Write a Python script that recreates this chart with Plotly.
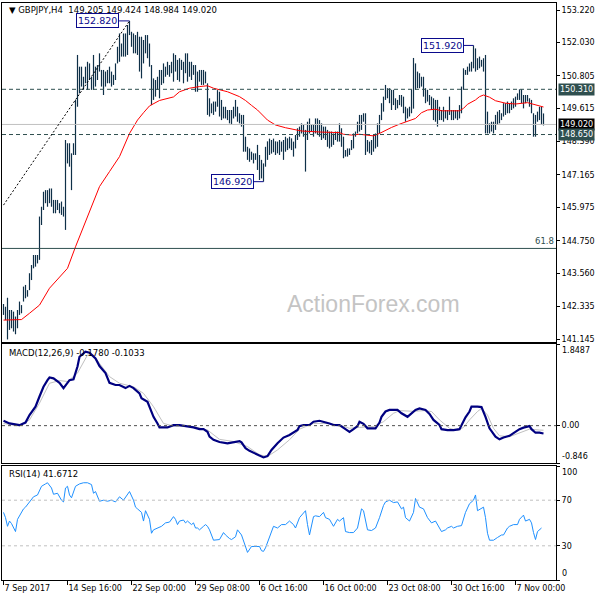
import plotly.graph_objects as go

# ---------------- data ----------------
bar_high = [142.43,142.33,142.66,142.21,142.21,142.15,141.97,142.21,142.52,142.39,
            143.07,143.13,142.94,143.56,143.86,144.23,144.23,144.23,145.64,146.00,
            146.55,146.61,146.61,146.67,146.67,146.25,146.25,146.25,146.13,146.19,
            146.00,148.45,148.33,148.33,147.96,148.33,149.92,151.57,151.14,151.14,
            150.77,151.14,151.32,151.26,150.77,151.57,151.14,151.20,151.63,151.02,
            151.02,150.96,151.02,151.14,150.96,150.84,151.26,151.87,152.36,151.99,
            152.36,152.36,152.67,152.82,152.42,152.36,152.30,152.42,152.24,152.24,
            152.12,152.30,152.30,151.99,151.20,150.71,150.65,150.77,151.02,151.02,
            151.26,151.14,151.32,151.20,151.32,151.63,151.57,151.39,151.45,151.39,
            151.32,151.63,151.63,151.32,151.32,151.20,151.20,150.96,151.02,151.02,
            151.02,150.96,150.53,149.98,149.79,149.86,149.86,150.28,150.22,149.92,
            149.67,149.67,149.55,149.55,149.55,149.67,149.92,149.67,149.43,149.37,
            149.37,148.57,148.20,148.14,148.02,147.96,147.96,148.27,147.90,147.72,
            147.59,148.20,148.40,148.50,148.45,148.50,148.40,148.39,148.45,148.39,
            148.45,148.57,148.51,148.57,148.51,148.39,148.63,148.88,148.94,149.06,
            149.00,148.82,149.12,149.24,149.00,149.00,149.24,149.24,149.18,149.06,
            148.94,148.94,148.82,148.76,148.76,148.69,148.76,148.76,149.06,148.88,
            148.57,148.08,148.14,148.14,148.45,148.69,148.76,149.12,149.37,149.37,
            149.43,149.43,148.45,148.39,148.45,148.63,148.69,149.06,149.37,149.80,
            150.04,150.47,150.35,150.35,150.29,150.29,149.98,149.92,150.10,150.10,
            150.04,149.67,149.61,149.67,150.30,151.46,151.26,150.96,150.90,150.77,
            150.77,150.35,150.29,150.10,150.04,149.98,149.92,149.92,149.67,149.55,
            149.67,149.55,149.55,150.04,149.55,149.55,149.55,149.55,149.73,150.41,
            151.08,151.02,151.14,151.26,151.32,151.92,151.81,151.45,151.51,151.39,
            151.45,151.57,149.49,149.06,149.12,149.12,149.37,149.49,149.55,149.43,
            149.80,149.80,149.86,149.80,149.86,149.98,150.04,150.16,150.31,150.31,
            150.10,150.10,150.10,149.98,149.92,149.43,149.37,149.49,149.67,149.67,
            149.424]
bar_low = [142.03,141.84,141.13,141.48,141.54,141.42,141.32,141.54,142.03,142.09,
           142.52,142.64,142.70,142.94,143.31,143.74,143.80,143.92,144.05,145.33,
           145.88,146.13,146.00,146.13,146.00,145.76,145.76,145.88,145.76,145.70,
           145.64,145.15,147.59,147.47,146.61,147.90,147.90,149.67,150.16,150.41,
           150.29,150.53,150.29,150.65,150.29,150.29,150.41,150.65,150.96,150.41,
           150.10,150.41,150.53,150.53,150.41,150.47,150.65,151.26,151.32,151.51,
           151.51,151.51,151.57,152.30,151.87,151.63,151.63,151.57,150.96,150.71,
           151.26,151.63,151.45,151.14,149.73,149.92,150.04,150.29,149.98,150.47,
           150.53,150.77,150.84,150.77,150.90,150.59,150.96,150.65,150.59,151.02,
           150.53,150.90,150.59,150.77,150.65,150.84,150.22,150.22,150.59,150.47,
           150.47,150.53,149.37,149.31,149.43,149.37,149.49,149.67,149.31,149.18,
           149.24,149.24,149.18,149.06,149.00,149.24,149.31,149.12,149.06,148.94,
           148.02,148.02,147.72,147.65,147.72,147.59,147.72,147.35,146.98,147.04,
           146.92,147.47,147.72,147.90,147.95,148.00,147.90,147.96,147.90,148.02,
           147.72,148.02,148.08,148.14,148.08,147.84,148.14,148.45,148.57,148.69,
           148.57,147.29,148.45,148.69,148.76,148.57,148.69,148.63,148.57,148.45,
           148.51,148.45,148.20,148.14,148.20,148.27,148.45,148.39,148.39,148.20,
           147.78,147.84,147.84,147.90,148.08,148.14,148.57,148.69,148.76,148.82,
           149.12,147.90,148.02,147.96,147.90,148.02,148.14,148.20,148.69,149.18,
           149.49,149.92,149.98,149.80,149.55,149.73,149.55,149.61,149.73,149.67,
           149.43,149.12,149.24,149.31,149.43,149.60,150.29,150.35,150.35,150.41,
           150.04,149.80,149.86,149.73,149.55,149.18,149.12,148.94,149.18,149.18,
           149.12,149.24,149.18,149.37,149.18,149.18,149.24,149.18,149.24,149.43,
           150.29,150.84,150.84,150.96,150.96,151.08,150.96,151.02,151.08,151.14,
           150.96,148.69,148.69,148.69,148.76,148.69,148.82,149.00,149.06,149.18,
           149.31,149.37,149.43,149.43,149.55,149.61,149.67,149.92,149.92,149.80,
           149.61,149.80,149.86,149.67,149.43,148.57,148.57,149.12,149.18,149.00,
           148.984]

ma_idx = [0, 9, 13, 18, 23, 28, 32, 36, 40, 45, 48, 53, 58, 63, 67, 70, 73, 78, 85, 88,
          93, 98, 102, 105, 112, 118, 121, 124, 127, 132, 136, 141, 144, 149, 159, 168,
          170, 174, 178, 182, 185, 188, 191, 194, 198, 201, 204, 206, 209, 212, 216, 219,
          228, 230, 232, 236, 238, 240, 243, 246, 251, 256, 262, 265, 270]
ma_val = [141.84, 141.86, 142.09, 142.39, 143.01, 143.43, 143.74, 144.53, 145.27, 146.13,
          146.74, 147.29, 147.84, 148.69, 149.18, 149.45, 149.70, 149.90, 150.03, 150.22,
          150.35, 150.41, 150.44, 150.35, 150.22, 150.04, 149.90, 149.72, 149.55, 149.18,
          149.00, 148.90, 148.85, 148.78, 148.74, 148.72, 148.66, 148.63, 148.66, 148.63,
          148.60, 148.69, 148.81, 148.91, 149.03, 149.10, 149.18, 149.24, 149.45, 149.55,
          149.58, 149.52, 149.52, 149.61, 149.76, 149.92, 150.04, 150.10, 150.02, 149.89,
          149.80, 149.77, 149.82, 149.77, 149.66]

macd_idx = [0, 3, 8, 11, 13, 16, 18, 20, 22, 23, 25, 28, 30, 32, 33, 35, 37, 38, 41, 43,
            46, 48, 51, 53, 56, 58, 61, 63, 65, 68, 69, 72, 73, 75, 77, 78, 82, 85, 88, 92,
            95, 98, 100, 102, 103, 105, 108, 112, 115, 118, 119, 121, 123, 127, 130, 132,
            134, 137, 140, 143, 147, 148, 150, 153, 155, 158, 160, 163, 165, 168, 171, 173,
            175, 177, 178, 180, 182, 186, 188, 189, 191, 193, 197, 199, 202, 203, 206, 208,
            211, 213, 215, 218, 219, 222, 225, 228, 229, 231, 233, 234, 237, 239, 241, 243,
            246, 248, 250, 253, 255, 258, 260, 263, 264, 266, 268, 270]
macd_val = [0.11, 0.05, 0.01, 0.07, 0.24, 0.43, 0.66, 0.88, 1.03, 1.09, 1.07, 0.97, 0.85,
            0.97, 1.03, 1.05, 1.34, 1.56, 1.675, 1.65, 1.52, 1.35, 1.19, 0.97, 0.92, 0.92,
            0.85, 0.90, 0.85, 0.73, 0.62, 0.54, 0.43, 0.20, 0.05, -0.04, -0.04, 0.01, 0.01,
            -0.01, -0.04, -0.08, -0.08, -0.14, -0.25, -0.32, -0.37, -0.40, -0.38, -0.35,
            -0.38, -0.51, -0.57, -0.66, -0.72, -0.69, -0.55, -0.40, -0.27, -0.21, -0.10,
            -0.01, 0.015, 0.015, 0.09, 0.11, 0.09, 0.05, 0.015, 0.01, -0.08, -0.14, -0.08,
            -0.01, 0.09, 0.04, -0.06, -0.06, 0.07, 0.20, 0.32, 0.355, 0.355, 0.28, 0.20,
            0.24, 0.355, 0.39, 0.355, 0.265, 0.13, 0.015, -0.08, -0.10, -0.10, -0.08, 0.015,
            0.19, 0.32, 0.43, 0.43, 0.42, 0.20, -0.06, -0.25, -0.31, -0.27, -0.23, -0.17,
            -0.08, -0.045, -0.01, -0.08, -0.16, -0.16, -0.178]

signal_idx = [0, 8, 13, 18, 23, 28, 32, 37, 42, 45, 48, 53, 58, 65, 70, 75, 80, 85, 95,
              102, 108, 115, 122, 128, 132, 137, 143, 148, 155, 162, 168, 173, 178, 185,
              190, 195, 198, 205, 210, 214, 218, 223, 227, 230, 233, 237, 239, 242, 245,
              248, 253, 258, 263, 268, 270]
signal_val = [0.05, -0.01, 0.13, 0.51, 0.96, 1.02, 1.00, 1.19, 1.60, 1.60, 1.41, 1.11,
              0.96, 0.88, 0.73, 0.43, 0.05, -0.01, -0.02, -0.10, -0.31, -0.36, -0.475,
              -0.66, -0.70, -0.55, -0.32, -0.08, 0.05, 0.05, 0.015, -0.06, -0.04, -0.02,
              0.09, 0.28, 0.34, 0.325, 0.34, 0.32, 0.13, -0.06, -0.11, -0.04, 0.13, 0.32,
              0.39, 0.24, -0.06, -0.23, -0.25, -0.17, -0.08, -0.10, -0.103]

rsi_idx = [0, 1, 2, 3, 4, 6, 7, 8, 10, 11, 13, 15, 17, 19, 21, 22, 24, 25, 27, 29, 30,
           31, 32, 33, 34, 36, 38, 40, 42, 44, 45, 46, 48, 50, 52, 54, 56, 58, 60, 62, 63,
           65, 66, 67, 69, 70, 71, 73, 74, 75, 77, 79, 81, 83, 85, 86, 87, 88, 90, 91, 92,
           94, 95, 96, 97, 98, 100, 101, 102, 103, 105, 107, 108, 110, 111, 113, 114, 116,
           117, 119, 120, 121, 122, 124, 126, 128, 129, 130, 131, 132, 133, 135, 137, 139,
           141, 143, 145, 146, 148, 150, 151, 152, 153, 155, 156, 158, 160, 161, 163, 164,
           165, 167, 168, 170, 171, 173, 175, 177, 178, 179, 180, 182, 184, 186, 188, 190,
           191, 193, 195, 197, 199, 200, 201, 203, 205, 206, 208, 210, 212, 214, 216, 217,
           219, 221, 222, 224, 225, 227, 229, 231, 233, 235, 236, 237, 239, 240, 241, 242,
           243, 245, 247, 249, 250, 252, 253, 255, 257, 258, 260, 261, 263, 264, 265, 266,
           267, 269]
rsi_val = [59.3, 54.7, 47.1, 51.7, 49.5, 42.5, 53.2, 56.3, 62.4, 63.9, 68.5, 73.0, 74.6,
           82.2, 84.3, 85.3, 80.7, 75.2, 76.1, 70.0, 68.5, 80.7, 82.2, 74.6, 72.1, 82.2,
           84.3, 85.3, 85.3, 83.7, 76.1, 77.6, 69.1, 70.0, 69.1, 70.0, 68.5, 73.0, 70.0,
           75.2, 77.6, 70.0, 63.9, 62.4, 59.3, 51.7, 60.8, 53.2, 41.0, 44.0, 45.6, 47.1,
           50.1, 50.8, 55.6, 53.2, 48.6, 51.7, 52.6, 50.1, 51.7, 48.6, 50.1, 45.6, 45.6,
           44.0, 47.1, 48.6, 47.1, 44.0, 34.9, 35.5, 35.5, 41.6, 39.5, 36.4, 35.5, 37.9,
           44.0, 39.5, 34.9, 28.8, 24.2, 29.4, 29.4, 29.4, 25.7, 25.1, 28.2, 33.4, 37.9,
           47.1, 45.6, 48.6, 48.6, 51.7, 48.6, 45.6, 54.7, 59.3, 60.8, 48.6, 39.5, 55.6,
           56.3, 55.6, 59.3, 54.7, 53.2, 50.1, 47.1, 53.2, 51.7, 54.7, 42.5, 41.6, 41.6,
           45.6, 54.7, 62.4, 60.8, 44.0, 43.4, 45.6, 54.7, 65.4, 68.5, 70.0, 67.9, 68.5,
           62.4, 63.9, 54.7, 51.7, 59.3, 71.5, 63.9, 62.4, 54.7, 50.1, 51.7, 48.6, 42.5,
           44.0, 45.6, 47.1, 45.6, 47.1, 47.7, 59.3, 66.9, 70.0, 74.6, 60.8, 62.4, 63.9,
           54.7, 41.0, 34.9, 34.9, 37.3, 39.5, 39.5, 45.6, 47.1, 48.6, 48.6, 53.2, 56.9,
           51.7, 53.2, 50.1, 41.6, 35.5, 42.5, 45.6, 43.4]

price_ticks = [153.22, 152.03, 150.805, 149.615, 148.39, 147.165, 145.975, 144.75, 143.56,
               142.335, 141.145]
price_tick_text = ["153.220", "152.030", "150.805", "149.615", "148.390", "147.165",
                   "145.975", "144.750", "143.560", "142.335", "141.145"]
date_idx = [0, 32, 64, 96, 128, 160, 192, 224, 256]
date_text = ["7 Sep 2017", "14 Sep 16:00", "22 Sep 00:00", "29 Sep 08:00", "6 Oct 16:00",
             "16 Oct 00:00", "23 Oct 08:00", "30 Oct 16:00", "7 Nov 00:00"]

resistance = 150.310
support = 148.650
last_price = 149.020
fib_618 = 144.47
swing_points = [(63, 152.820), (235, 151.920), (130, 146.920)]
trend_from = (0, 146.06)
trend_to = (63, 152.82)
header = "▼ GBPJPY,H4  149.205 149.424 148.984 149.020"
macd_title = "MACD(12,26,9) -0.1780 -0.1033"
rsi_title = "RSI(14) 41.6712"

# ---------------- figure ----------------
FONT = "DejaVu Sans"
BAR_C = "#0f3048"
DSLATE = "#2f4f4f"
NAVY = "#0a0a8c"
AX_FONT = dict(family=FONT, size=8, color="black")

bx, by = [], []
for i, (h, l) in enumerate(zip(bar_high, bar_low)):
    bx += [i, i, None]
    by += [l, h, None]

fig = go.Figure()
fig.add_trace(go.Scatter(x=bx, y=by, mode="lines", line=dict(color=BAR_C, width=1.2),
                         xaxis="x3", yaxis="y", hoverinfo="skip"))
fig.add_trace(go.Scatter(x=ma_idx, y=ma_val, mode="lines", line=dict(color="#ff0000", width=1),
                         xaxis="x3", yaxis="y"))
fig.add_trace(go.Scatter(x=signal_idx, y=signal_val, mode="lines",
                         line=dict(color="#c0c0c0", width=1), xaxis="x2", yaxis="y2"))
fig.add_trace(go.Scatter(x=macd_idx, y=macd_val, mode="lines",
                         line=dict(color="#000080", width=2.2), xaxis="x2", yaxis="y2"))
fig.add_trace(go.Scatter(x=rsi_idx, y=rsi_val, mode="lines",
                         line=dict(color="#1e90ff", width=1), xaxis="x", yaxis="y3"))

XR = [-0.75, 276.25]
common_x = dict(showgrid=False, zeroline=False, showline=True, mirror=True,
                linecolor="black", linewidth=1, automargin=False)
common_y = dict(showgrid=False, zeroline=False, showline=True, mirror=True,
                linecolor="black", linewidth=1, side="right", ticks="outside",
                ticklen=3, tickcolor="black", automargin=False, tickfont=AX_FONT)

fig.update_layout(
    width=600, height=600, margin=dict(l=2, r=44, t=3, b=20, autoexpand=False),
    paper_bgcolor="white", plot_bgcolor="white", showlegend=False,
    xaxis=dict(domain=[0, 1], anchor="y3", range=XR, tickvals=date_idx, ticktext=date_text,
               ticks="outside", ticklen=4, tickcolor="black", tickangle=0,
               ticklabelposition="outside right", tickfont=AX_FONT, **common_x),
    xaxis2=dict(domain=[0, 1], anchor="y2", matches="x", range=XR, showticklabels=False,
                **common_x),
    xaxis3=dict(domain=[0, 1], anchor="y", matches="x", range=XR, showticklabels=False,
                **common_x),
    yaxis=dict(domain=[0.41248, 1], anchor="x3", range=[141.036, 153.477],
               tickvals=price_ticks, ticktext=price_tick_text, **common_y),
    yaxis2=dict(domain=[0.20277, 0.40901], anchor="x2", range=[-0.846, 1.8487],
                tickvals=[-0.846, 0, 1.8487], ticktext=["", "0.00", ""], **common_y),
    yaxis3=dict(domain=[0, 0.19757], anchor="x", range=[0, 100],
                tickvals=[0, 30, 70, 100], ticktext=["", "30", "70", ""], **common_y),
)

shapes = []
shapes.append(dict(type="line", xref="x3 domain", yref="y", x0=0, x1=1, y0=resistance,
                   y1=resistance, line=dict(color=DSLATE, width=1, dash="4px,3px")))
shapes.append(dict(type="line", xref="x3 domain", yref="y", x0=0, x1=1, y0=support,
                   y1=support, line=dict(color=DSLATE, width=1, dash="4px,3px")))
shapes.append(dict(type="line", xref="x3 domain", yref="y", x0=0, x1=1, y0=last_price,
                   y1=last_price, line=dict(color="#c0c0c0", width=1)))
shapes.append(dict(type="line", xref="x3 domain", yref="y", x0=0, x1=1, y0=fib_618,
                   y1=fib_618, line=dict(color=DSLATE, width=1)))
shapes.append(dict(type="line", xref="x3", yref="y", x0=trend_from[0], y0=trend_from[1],
                   x1=trend_to[0], y1=trend_to[1],
                   line=dict(color="black", width=1, dash="2px,2px")))
shapes.append(dict(type="line", xref="x2 domain", yref="y2", x0=0, x1=1, y0=0, y1=0,
                   line=dict(color="#505050", width=1, dash="3px,3px")))
for lvl in (70, 30):
    shapes.append(dict(type="line", xref="x domain", yref="y3", x0=0, x1=1, y0=lvl, y1=lvl,
                       line=dict(color="#c0c0c0", width=1, dash="3px,3px")))

annotations = []
box_offsets = {0: -5.2, 1: -4.8, 2: -5.0}
for k, (bi, val) in enumerate(swing_points):
    bx_right = bi + box_offsets[k]
    shapes.append(dict(type="line", xref="x3", yref="y", x0=bx_right, x1=bi, y0=val, y1=val,
                       line=dict(color=NAVY, width=1)))
    annotations.append(dict(xref="x3", yref="y", x=bx_right, y=val, xanchor="right",
                            yanchor="middle", text=f"{val:.3f}", showarrow=False,
                            font=dict(family=FONT, size=9.5, color=NAVY),
                            bgcolor="white", bordercolor=NAVY, borderwidth=1, borderpad=1))

for val, bg in ((resistance, DSLATE), (last_price, "black"), (support, DSLATE)):
    annotations.append(dict(xref="paper", yref="y", x=1, xshift=2, y=val, xanchor="left",
                            yanchor="middle", text=f"{val:.3f}", showarrow=False,
                            font=dict(family=FONT, size=8, color="white"),
                            bgcolor=bg, borderpad=1))
for txt, yref, yv, ya in (("1.8487", "y2", 1.8487, "top"), ("-0.846", "y2", -0.846, "bottom"),
                          ("100", "y3", 100, "top"), ("0", "y3", 0, "bottom")):
    annotations.append(dict(xref="paper", yref=yref, x=1, xshift=4, y=yv, xanchor="left",
                            yanchor=ya, text=txt, showarrow=False, font=AX_FONT))
annotations.append(dict(xref="paper", yref="y", x=1, y=fib_618, xanchor="right",
                        yanchor="bottom", text="61.8", showarrow=False,
                        font=dict(family=FONT, size=8.5, color=DSLATE)))
annotations.append(dict(xref="paper", yref="paper", x=0.009, y=0.988, xanchor="left",
                        yanchor="middle", text=header, showarrow=False,
                        font=dict(family=FONT, size=8.5, color="black")))
annotations.append(dict(xref="paper", yref="y2", x=0.009, y=1.645, xanchor="left",
                        yanchor="middle", text=macd_title, showarrow=False,
                        font=dict(family=FONT, size=8.5, color="black")))
annotations.append(dict(xref="paper", yref="y3", x=0.009, y=93, xanchor="left",
                        yanchor="middle", text=rsi_title, showarrow=False,
                        font=dict(family=FONT, size=8.5, color="black")))
annotations.append(dict(xref="paper", yref="y", x=0.671, y=142.43, xanchor="center",
                        yanchor="middle", text="ActionForex.com", showarrow=False,
                        font=dict(family="Liberation Sans", size=23, color="#c4c4c4")))

fig.update_layout(shapes=shapes, annotations=annotations)
fig.write_html("out.html", config={"displayModeBar": False},
               post_script="document.body.style.margin='0';")
